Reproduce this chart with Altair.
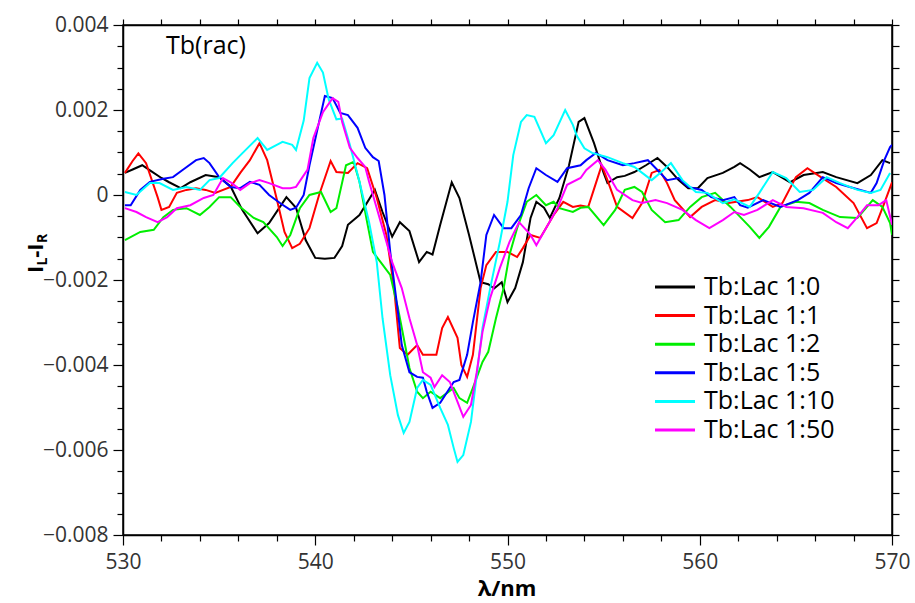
import altair as alt
import pandas as pd

# ---------------- data (values in units of 1e-3) ----------------
series_names = ["Tb:Lac 1:0", "Tb:Lac 1:1", "Tb:Lac 1:2", "Tb:Lac 1:5", "Tb:Lac 1:10", "Tb:Lac 1:50"]
series_colors = ["#000000", "#ff0000", "#00ee00", "#0000ff", "#00ffff", "#ff00ff"]

black = [(530.1,0.52),(530.5,0.6),(531,0.7),(531.5,0.55),(532,0.4),(532.4,0.3),(533,0.16),(533.5,0.3),(534.3,0.47),(535,0.42),(535.6,0.2),(536.2,-0.35),(537,-0.9),(537.6,-0.66),(538.5,-0.05),(539,-0.3),(539.5,-1.06),(540,-1.48),(540.5,-1.5),(541,-1.48),(541.4,-1.2),(541.7,-0.7),(542.3,-0.47),(543.1,0.12),(543.5,-0.4),(544,-0.98),(544.4,-0.64),(544.9,-0.85),(545.4,-1.58),(545.8,-1.34),(546.1,-1.4),(546.5,-0.7),(547.1,0.3),(547.5,-0.07),(548,-0.94),(548.6,-2.05),(549,-2.1),(549.3,-2.2),(549.7,-2.05),(550,-2.52),(550.4,-2.19),(550.8,-1.58),(551.2,-0.54),(551.5,-0.16),(551.9,-0.3),(552.2,-0.54),(552.7,-0.07),(553.2,0.7),(553.7,1.72),(554,1.81),(554.5,1.22),(555,0.52),(555.2,0.28),(555.7,0.42),(556.1,0.45),(556.6,0.54),(557.2,0.7),(557.8,0.87),(558.3,0.66),(558.9,0.35),(559.4,0.16),(559.9,0.16),(560.4,0.4),(561.2,0.52),(561.8,0.66),(562.1,0.75),(562.6,0.6),(563.1,0.42),(563.8,0.54),(564.7,0.3),(565.4,0.47),(566.4,0.54),(567.1,0.42),(568.2,0.28),(568.9,0.47),(569.5,0.82),(569.9,0.75)]

red = [(530.1,0.52),(530.5,0.8),(530.8,0.98),(531.2,0.75),(531.8,-0.05),(532,-0.35),(532.4,-0.28),(532.8,0.05),(533.3,0.12),(533.8,0.16),(534.3,0.12),(534.8,0.05),(535.6,0.19),(536.1,0.52),(536.6,0.82),(537.1,1.22),(537.5,0.82),(538,-0.1),(538.4,-0.87),(538.8,-1.25),(539.2,-1.15),(539.7,-0.78),(540.2,0.0),(540.8,0.8),(541.1,0.54),(541.7,0.52),(542.2,0.75),(542.7,0.63),(543.2,-0.07),(543.7,-0.94),(544.1,-2.19),(544.4,-3.6),(544.8,-3.76),(545.3,-3.53),(545.6,-3.76),(546,-3.76),(546.3,-3.76),(546.6,-3.13),(546.9,-2.87),(547.4,-3.36),(547.6,-4.0),(547.9,-4.28),(548.2,-3.76),(548.6,-2.19),(548.9,-1.65),(549.4,-1.34),(550,-1.34),(550.5,-1.46),(550.8,-1.25),(551.2,-0.94),(551.7,-1.01),(552,-0.78),(552.4,-0.47),(552.9,-0.16),(553.4,-0.28),(553.8,-0.25),(554.2,-0.28),(554.7,0.42),(554.9,0.7),(555.2,0.35),(555.7,-0.28),(556.5,-0.54),(557,-0.19),(557.5,0.52),(557.9,0.59),(558.3,0.28),(558.7,-0.12),(559.5,-0.52),(560.1,-0.28),(560.8,-0.12),(561.5,-0.19),(562.5,-0.12),(563,-0.05),(563.8,-0.28),(564.3,-0.19),(565,0.42),(565.6,0.63),(566.3,0.42),(567.1,0.19),(568,-0.19),(568.7,-0.78),(569.2,-0.66),(569.6,-0.19),(570,0.3)]

green = [(530.1,-1.06),(530.9,-0.87),(531.6,-0.82),(532.1,-0.52),(532.6,-0.35),(533.3,-0.31),(534,-0.47),(534.5,-0.28),(535,-0.05),(535.6,-0.05),(536.1,-0.28),(536.8,-0.54),(537.3,-0.64),(538,-0.99),(538.3,-1.2),(538.7,-0.94),(539.2,-0.31),(539.7,0.0),(540.3,0.07),(540.8,-0.4),(541.1,-0.31),(541.6,0.7),(542,0.78),(542.3,0.31),(542.7,-0.64),(543,-1.34),(543.4,-1.58),(543.9,-1.88),(544.3,-2.66),(544.6,-3.36),(544.9,-4.07),(545.3,-4.63),(545.6,-4.78),(546,-4.63),(546.5,-4.78),(547.2,-4.54),(547.5,-4.78),(547.9,-4.89),(548.2,-4.54),(548.7,-3.93),(549,-3.69),(549.4,-2.9),(549.8,-2.19),(550.1,-1.41),(550.5,-0.78),(551,-0.16),(551.5,0.0),(552,-0.24),(552.4,-0.16),(552.7,-0.31),(553.4,-0.4),(553.8,-0.3),(554.2,-0.28),(555,-0.71),(555.6,-0.35),(556.1,0.12),(556.6,0.19),(557,0.07),(557.5,-0.35),(558.2,-0.64),(558.9,-0.59),(559.5,-0.28),(560.1,-0.05),(560.8,0.05),(561.6,-0.28),(562.6,-0.75),(563.1,-1.01),(563.6,-0.75),(564.2,-0.28),(565,-0.16),(565.7,-0.19),(566.4,-0.35),(567.3,-0.52),(568.2,-0.54),(569,-0.12),(569.5,-0.28),(569.9,-0.66),(570,-0.94)]

blue = [(530.1,-0.24),(530.4,-0.24),(530.9,0.12),(531.4,0.31),(532.1,0.38),(532.6,0.42),(533.1,0.59),(533.8,0.82),(534.2,0.87),(534.5,0.75),(535,0.42),(535.6,0.19),(536.1,0.16),(536.6,0.31),(537.1,0.24),(537.6,0.0),(538.2,-0.2),(538.7,-0.35),(539,-0.3),(539.4,0.0),(539.7,0.7),(540.2,1.72),(540.5,2.33),(540.9,2.28),(541.3,1.93),(541.7,1.88),(542.2,1.58),(542.6,1.11),(543,0.89),(543.3,0.8),(543.6,0.0),(543.9,-1.34),(544.3,-2.75),(544.5,-3.53),(544.9,-4.17),(545.3,-4.28),(545.6,-4.3),(545.8,-4.63),(546.1,-5.01),(546.5,-4.89),(547.2,-4.4),(547.5,-4.35),(547.9,-3.76),(548.2,-2.99),(548.6,-2.05),(548.9,-0.94),(549.3,-0.47),(549.8,-0.78),(550.2,-0.78),(550.7,-0.47),(551.1,0.16),(551.5,0.63),(552,0.47),(552.6,0.31),(553.1,0.63),(553.8,0.7),(554.1,0.82),(554.6,0.99),(555.2,0.82),(556,0.7),(556.6,0.75),(557.3,0.82),(557.8,0.59),(558.3,0.35),(558.9,0.4),(559.4,0.19),(560.1,0.12),(560.6,-0.05),(561.2,-0.12),(561.8,-0.05),(562.1,-0.24),(562.5,-0.3),(563.3,-0.12),(564.2,-0.28),(565.1,-0.12),(565.7,0.05),(566.4,0.42),(567.1,0.28),(567.8,0.19),(568.9,0.05),(569.2,0.28),(569.6,0.82),(569.9,1.13),(570,1.18)]

cyan = [(530.1,0.07),(530.7,0.0),(531.4,0.28),(531.9,0.28),(532.6,0.12),(533.3,0.19),(534,0.12),(534.5,0.35),(535,0.4),(535.7,0.75),(536.2,0.98),(537,1.34),(537.5,1.06),(538,1.18),(538.3,1.25),(538.8,1.18),(539,1.06),(539.4,1.75),(539.7,2.75),(540.1,3.11),(540.4,2.88),(540.7,2.25),(541.1,1.78),(541.4,1.8),(541.8,1.18),(542.3,0.31),(542.8,-0.64),(543.2,-1.58),(543.5,-2.9),(543.9,-4.24),(544.3,-5.18),(544.6,-5.6),(544.9,-5.34),(545.3,-4.54),(545.6,-4.35),(546,-4.47),(546.5,-5.01),(546.9,-5.41),(547.2,-5.95),(547.4,-6.28),(547.7,-6.12),(548.1,-5.34),(548.4,-4.24),(548.7,-3.13),(549.1,-2.19),(549.6,-1.11),(550,-0.16),(550.3,0.94),(550.7,1.72),(551,1.88),(551.4,1.84),(552,1.22),(552.4,1.41),(553,2.0),(553.4,1.65),(553.6,1.4),(554,1.1),(554.4,0.99),(555.2,0.89),(556,0.75),(556.6,0.66),(557.5,0.35),(558,0.54),(558.5,0.75),(559.1,0.35),(559.8,0.07),(560.4,0.05),(561.2,-0.19),(561.8,-0.1),(562.6,-0.28),(563.1,0.05),(563.8,0.54),(564.5,0.4),(565.2,0.07),(565.9,0.12),(566.6,0.42),(567.3,0.28),(568.2,0.12),(568.9,0.05),(569.4,0.12),(569.9,0.52)]

magenta = [(530.1,-0.31),(530.7,-0.4),(531.2,-0.52),(531.8,-0.64),(532.3,-0.52),(532.8,-0.31),(533.5,-0.24),(534.2,-0.07),(534.7,0.0),(535.2,0.4),(535.6,0.3),(536.1,0.12),(536.6,0.28),(537.1,0.35),(537.6,0.28),(538.3,0.16),(538.7,0.16),(539,0.19),(539.6,0.6),(539.9,1.34),(540.4,1.95),(540.9,2.28),(541.2,2.19),(541.4,1.72),(541.8,1.11),(542.2,0.87),(542.6,0.66),(542.8,0.31),(543.2,-0.31),(543.6,-0.94),(544,-1.58),(544.5,-2.19),(544.9,-2.9),(545.3,-3.53),(545.6,-4.17),(546,-4.3),(546.2,-4.52),(546.6,-4.24),(547,-4.4),(547.4,-4.87),(547.7,-5.22),(548.1,-4.94),(548.4,-4.17),(548.7,-3.22),(549.1,-2.42),(549.6,-1.72),(550.1,-1.11),(550.6,-0.64),(551.2,-0.94),(551.5,-1.18),(552,-0.78),(552.6,-0.31),(553.1,0.24),(553.8,0.4),(554.1,0.59),(554.7,0.82),(555.1,0.59),(555.7,0.12),(556.5,-0.12),(557,-0.19),(557.7,-0.12),(558.3,-0.19),(559.1,-0.35),(559.8,-0.59),(560.5,-0.78),(561.2,-0.59),(561.8,-0.4),(562.3,-0.47),(563,-0.35),(563.8,-0.12),(564.5,-0.28),(565.4,-0.31),(566.4,-0.42),(567.1,-0.64),(567.7,-0.78),(568.2,-0.52),(568.7,-0.24),(569.3,-0.24),(569.7,-0.12),(570,-0.7)]

x_tick_values = list(range(530, 571, 2))
y_tick_values = [round(-0.008 + 0.0005 * i, 4) for i in range(25)]

# ---------------- build table ----------------
rows = []
for order, (name, pts) in enumerate(zip(series_names, [black, red, green, blue, cyan, magenta])):
    for x, y in pts:
        rows.append({"series": name, "order": order, "x": x, "y": y * 1e-3})
df = pd.DataFrame(rows)

FONT = "Open Sans"
xscale = alt.Scale(domain=[530, 570], nice=False, zero=False)
yscale = alt.Scale(domain=[-0.008, 0.004], nice=False, zero=False)
color = alt.Color("series:N", scale=alt.Scale(domain=series_names, range=series_colors), legend=None)

lines = alt.Chart(df).mark_line(strokeWidth=2, clip=True).encode(
    x=alt.X("x:Q", scale=xscale, title=None,
            axis=alt.Axis(values=x_tick_values, orient="bottom", format="d",
                          labelExpr="datum.value % 10 == 0 ? datum.label : ''",
                          tickSize={"condition": {"test": "datum.value % 10 == 0", "value": 10}, "value": 6},
                          labelPadding=6, labelFontSize=21, labelOverlap=False, labelFlush=False, grid=False)),
    y=alt.Y("y:Q", scale=yscale, title=None,
            axis=alt.Axis(values=y_tick_values, orient="left", format=".3~f",
                          labelExpr="abs(round(datum.value*10000)) % 20 == 0 ? datum.label : ''",
                          tickSize={"condition": {"test": "abs(round(datum.value*10000)) % 20 == 0", "value": 10}, "value": 6},
                          labelPadding=5, labelFontSize=21, labelOverlap=False, labelFlush=False, grid=False)),
    color=color,
    order="order:Q",
    detail="series:N",
)

frame_axes = alt.Chart(df).mark_line(opacity=0).encode(
    x=alt.X("x:Q", scale=xscale, title=None,
            axis=alt.Axis(values=x_tick_values, orient="top", labels=False, tickSize=6, grid=False)),
    y=alt.Y("y:Q", scale=yscale, title=None,
            axis=alt.Axis(values=y_tick_values, orient="right", labels=False, tickSize=7, grid=False)),
    detail="series:N",
)

one = pd.DataFrame({"a": [0]})

layers = [lines, frame_axes]

# annotation
layers.append(alt.Chart(one).mark_text(text="Tb(rac)", align="left", baseline="middle",
                                       font=FONT, fontSize=25, color="#000").encode(
    x=alt.value(43), y=alt.value(21)))

# legend (manual)
for i, (name, col) in enumerate(zip(series_names, series_colors)):
    yy = 262 + i * 28.6
    layers.append(alt.Chart(one).mark_rule(color=col, strokeWidth=3).encode(
        x=alt.value(532), x2=alt.value(572), y=alt.value(yy)))
    layers.append(alt.Chart(one).mark_text(text=name, align="left", baseline="middle",
                                           font=FONT, fontSize=25, color="#000").encode(
        x=alt.value(581), y=alt.value(yy)))

# x title
layers.append(alt.Chart(one).mark_text(text="λ/nm", align="center", baseline="top",
                                       font=FONT, fontSize=22, fontWeight="bold", color="#000").encode(
    x=alt.value(384), y=alt.value(554)))

# y title with subscripts (rotated)
ytitle_parts = [("I", 22, -80, 248), ("L", 14, -76, 240.4), ("-", 22, -80, 232.8), ("I", 22, -80, 225.7), ("R", 14, -76, 218.1)]
for txt, fs, xx, yy in ytitle_parts:
    layers.append(alt.Chart(one).mark_text(text=txt, align="left", baseline="alphabetic", angle=270,
                                           font=FONT, fontSize=fs, fontWeight="bold", color="#000").encode(
        x=alt.value(xx), y=alt.value(yy)))

chart = alt.layer(*layers).properties(
    width=769, height=510,
    autosize=alt.AutoSizeParams(type="none"),
    padding={"left": 123, "top": 25, "right": 23, "bottom": 68},
).configure_view(
    stroke="#000", strokeWidth=1.5
).configure_axis(
    domainColor="#000", domainWidth=1.5, tickColor="#000", tickWidth=1.2,
    labelFont=FONT, labelColor="#333", labelFontSize=21,
)

chart.save("out.html", embed_options={"renderer": "svg", "actions": False})
